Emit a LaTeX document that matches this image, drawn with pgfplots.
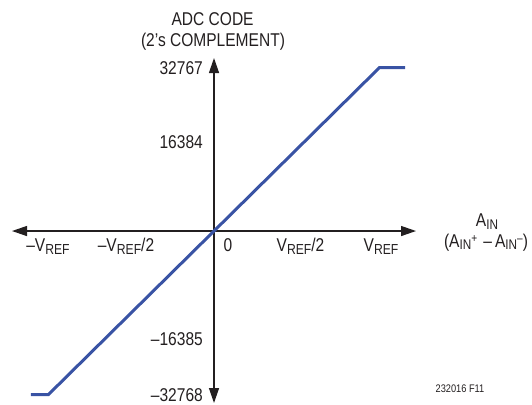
\documentclass[border=0pt]{standalone}
\usepackage{pgfplots}
\pgfplotsset{compat=1.18}
\usepackage{fontspec}
\setmainfont{Liberation Sans}[FakeStretch=0.84]
\usetikzlibrary{arrows.meta}
\definecolor{ltblue}{RGB}{57,83,164}
\definecolor{ink}{RGB}{35,31,32}
\newcommand{\sub}[1]{\raisebox{-3.5bp}{\fontsize{14.5bp}{15bp}\selectfont #1}}
\newcommand{\subs}[1]{\raisebox{-2.5bp}{\fontsize{14bp}{15bp}\selectfont #1}}
\newcommand{\sups}[1]{\raisebox{4.5bp}{\fontsize{12bp}{13bp}\selectfont #1}}
\newcommand{\chartfont}{\fontsize{18.5bp}{20bp}\selectfont}
\begin{document}
\begin{tikzpicture}[x=1bp,y=1bp]
\path[use as bounding box] (0,0) rectangle (532,-404);
\begin{axis}[
  at={(12bp,-403bp)}, anchor=south west,
  scale only axis, width=404bp, height=345bp,
  xmin=-1.2205, xmax=1.2205, ymin=-34473, ymax=34675,
  hide axis, clip=false,
]
\draw[ink, line width=1.3bp, {Triangle[length=15bp,width=10bp]}-{Triangle[length=15bp,width=10bp]}] (axis cs:-1.2205,0) -- (axis cs:1.2205,0);
\draw[ink, line width=1.3bp, {Triangle[length=15bp,width=10bp]}-{Triangle[length=15bp,width=10bp]}] (axis cs:0,-34473) -- (axis cs:0,34675);
\addplot[ltblue, line width=3bp] coordinates {(-1.106,-32768) (-1,-32768) (1,32767) (1.154,32767)};
\end{axis}
\begin{scope}[text=ink, font=\chartfont]
\node[anchor=base] at (212.6,-25) {ADC CODE};
\node[anchor=base] at (213,-46) {(2’s COMPLEMENT)};
\node[anchor=base east, inner xsep=0pt] at (203,-74) {32767};
\node[anchor=base east, inner xsep=0pt] at (203,-148) {16384};
\node[anchor=base east, inner xsep=0pt] at (203,-345) {–16385};
\node[anchor=base east, inner xsep=0pt] at (203,-401) {–32768};
\node[anchor=base] at (48,-251) {–V\sub{REF}};
\node[anchor=base] at (126,-251) {–V\sub{REF}/2};
\node[anchor=base] at (228,-251) {0};
\node[anchor=base] at (300.5,-251) {V\sub{REF}/2};
\node[anchor=base] at (381,-251) {V\sub{REF}};
\node[anchor=base, inner sep=0pt] at (487,-226.5) {A\subs{IN}};
\node[anchor=base, inner sep=0pt] at (486,-247) {(A\subs{IN}\sups{+}\,\,–\,A\subs{IN}\sups{–})};
\node[anchor=base, font=\fontsize{11bp}{12bp}\selectfont] at (460,-392) {232016 F11};
\end{scope}
\end{tikzpicture}
\end{document}
